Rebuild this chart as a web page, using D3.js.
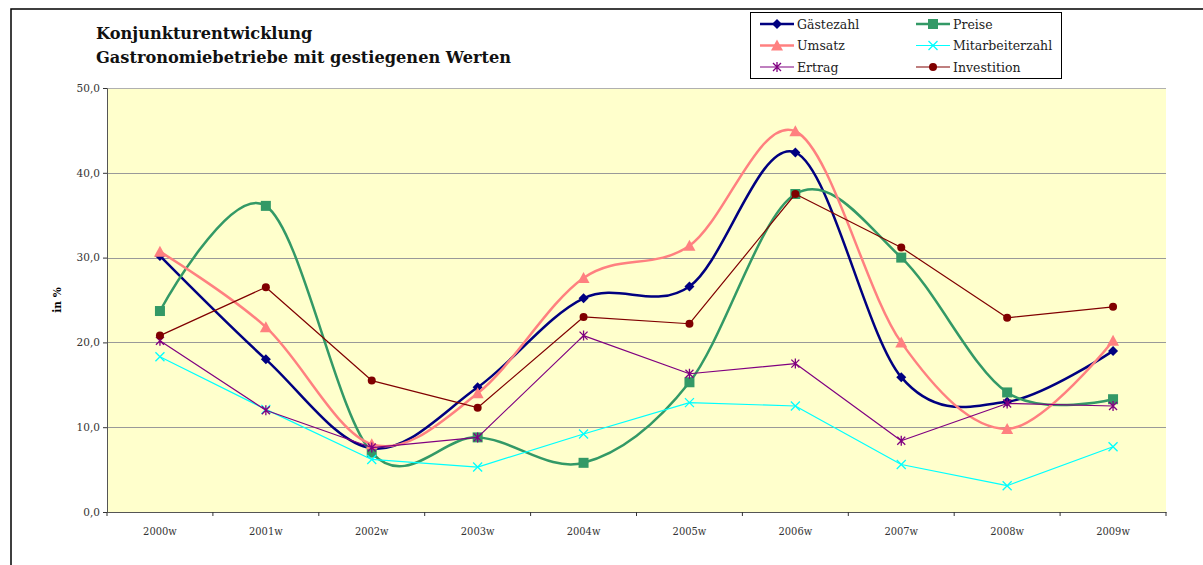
<!DOCTYPE html>
<html>
<head>
<meta charset="utf-8">
<script src="https://cdn.jsdelivr.net/npm/d3@7"></script>
<style>
  body { margin: 0; background: #fff; }
  svg { display: block; }
</style>
</head>
<body>
<svg id="chart"></svg>
<script>
const categories = ['2000w', '2001w', '2002w', '2003w', '2004w', '2005w', '2006w', '2007w', '2008w', '2009w'];

const gaestezahl = [30.2, 18.0, 7.5, 14.7, 25.2, 26.6, 42.4, 15.9, 13.0, 19.0];
const preise = [23.7, 36.1, 7.0, 8.8, 5.8, 15.3, 37.5, 30.0, 14.1, 13.3];
const umsatz = [30.7, 21.8, 8.0, 14.0, 27.6, 31.4, 44.9, 20.0, 9.8, 20.2];
const mitarbeiterzahl = [18.3, 12.1, 6.2, 5.3, 9.2, 12.9, 12.5, 5.6, 3.1, 7.7];
const ertrag = [20.2, 12.0, 7.6, 8.8, 20.8, 16.3, 17.5, 8.4, 12.8, 12.5];
const investition = [20.8, 26.5, 15.5, 12.3, 23.0, 22.2, 37.5, 31.2, 22.9, 24.2];

const yTicks = [0, 10, 20, 30, 40, 50];

const WIDTH = 1203;
const HEIGHT = 565;
const PLOT = { left: 107, right: 1166, top: 88, bottom: 512 };

// series table (styles kept here, values come from the arrays above)
const series = [
	{ name: 'Gästezahl', values: gaestezahl, color: '#000080', width: 2.5, smooth: true, marker: 'diamond' },
	{ name: 'Preise', values: preise, color: '#339966', width: 2.5, smooth: true, marker: 'square' },
	{ name: 'Umsatz', values: umsatz, color: '#FF8080', width: 2.5, smooth: true, marker: 'triangle' },
	{ name: 'Mitarbeiterzahl', values: mitarbeiterzahl, color: '#00FFFF', width: 1.2, smooth: false, marker: 'x' },
	{ name: 'Ertrag', values: ertrag, color: '#800080', width: 1.2, smooth: false, marker: 'star' },
	{ name: 'Investition', values: investition, color: '#800000', width: 1.2, smooth: false, marker: 'circle' }
];

const svg = d3.select('#chart').attr('width', WIDTH).attr('height', HEIGHT);

// outer chart frame
svg.append('rect')
	.attr('x', 11)
	.attr('y', 9)
	.attr('width', WIDTH + 20)
	.attr('height', HEIGHT + 20)
	.attr('fill', '#fff')
	.attr('stroke', '#000')
	.attr('stroke-width', 1.5);

const x = d3.scaleBand().domain(categories).range([PLOT.left, PLOT.right]);
const y = d3.scaleLinear().domain([0, 50]).range([PLOT.bottom, PLOT.top]);
const cx = (d) => x(d) + x.bandwidth() / 2;

// plot area
svg.append('rect')
	.attr('x', PLOT.left)
	.attr('y', PLOT.top)
	.attr('width', PLOT.right - PLOT.left)
	.attr('height', PLOT.bottom - PLOT.top)
	.attr('fill', '#FFFFCC');

// gridlines
svg.append('g')
	.selectAll('line')
	.data(yTicks.filter((t) => t > 0))
	.enter()
	.append('line')
	.attr('x1', PLOT.left)
	.attr('x2', PLOT.right)
	.attr('y1', (d) => Math.round(y(d)) + 0.5)
	.attr('y2', (d) => Math.round(y(d)) + 0.5)
	.attr('stroke', (d) => (d === 50 ? '#b0b0b0' : '#999'))
	.attr('stroke-width', 1.2);

// y axis
const yAxis = svg.append('g')
	.attr('transform', `translate(${PLOT.left},0)`)
	.call(d3.axisLeft(y).tickValues(yTicks).tickSize(4).tickPadding(3)
		.tickFormat((d) => d3.format('.1f')(d).replace('.', ',')));
yAxis.select('.domain').attr('stroke', '#555');
yAxis.selectAll('.tick line').attr('stroke', '#333');
yAxis.selectAll('text')
	.attr('font-family', 'DejaVu Serif')
	.attr('font-size', 10.5)
	.attr('fill', '#333');

// x axis
const xAxis = svg.append('g')
	.attr('transform', `translate(0,${PLOT.bottom})`)
	.call(d3.axisBottom(x).tickSize(0).tickPadding(15));
xAxis.select('.domain').attr('stroke', '#555').attr('stroke-width', 1.2);
xAxis.selectAll('text')
	.attr('font-family', 'DejaVu Serif Condensed, DejaVu Serif')
	.attr('font-size', 11)
	.attr('fill', '#333');
// category boundary ticks
xAxis.append('g')
	.selectAll('line')
	.data(d3.range(categories.length + 1))
	.enter()
	.append('line')
	.attr('x1', (i) => PLOT.left + i * x.bandwidth())
	.attr('x2', (i) => PLOT.left + i * x.bandwidth())
	.attr('y1', 0)
	.attr('y2', 4)
	.attr('stroke', '#333');

// y axis title
svg.append('text')
	.attr('transform', 'translate(61,300) rotate(-90)')
	.attr('text-anchor', 'middle')
	.attr('font-family', 'DejaVu Serif')
	.attr('font-weight', 'bold')
	.attr('font-size', 10.5)
	.text('in %');

// title
const title = svg.append('g').attr('font-family', 'DejaVu Serif').attr('font-weight', 'bold').attr('font-size', 16.2).attr('fill', '#111');
title.append('text').attr('x', 96).attr('y', 39).text('Konjunkturentwicklung');
title.append('text').attr('x', 96).attr('y', 63).text('Gastronomiebetriebe mit gestiegenen Werten');

function drawMarker(g, type, color) {
	if (type === 'diamond') {
		g.append('path').attr('d', 'M0,-5L5,0L0,5L-5,0Z').attr('fill', color);
	} else if (type === 'square') {
		g.append('rect').attr('x', -5).attr('y', -5).attr('width', 10).attr('height', 10).attr('fill', color);
	} else if (type === 'triangle') {
		g.append('path').attr('d', 'M0,-6L6,5L-6,5Z').attr('fill', color);
	} else if (type === 'circle') {
		g.append('circle').attr('r', 4).attr('fill', color);
	} else if (type === 'x') {
		g.append('path').attr('d', 'M-4.5,-4.5L4.5,4.5M-4.5,4.5L4.5,-4.5').attr('stroke', color).attr('stroke-width', 1.3);
	} else if (type === 'star') {
		g.append('path').attr('d', 'M-4,-4L4,4M-4,4L4,-4M0,-5L0,5').attr('stroke', color).attr('stroke-width', 1.3);
	}
}

// series lines
const lineGroup = svg.append('g');
series.forEach((s) => {
	const line = d3.line()
		.x((d, i) => cx(categories[i]))
		.y((d) => y(d))
		.curve(s.smooth ? d3.curveCardinal.tension(0) : d3.curveLinear);
	lineGroup.append('path')
		.datum(s.values)
		.attr('d', line)
		.attr('fill', 'none')
		.attr('stroke', s.color)
		.attr('stroke-width', s.width)
		.attr('stroke-linejoin', 'round');
	const markers = lineGroup.append('g')
		.selectAll('g')
		.data(s.values)
		.enter()
		.append('g')
		.attr('transform', (d, i) => `translate(${cx(categories[i])},${y(d)})`);
	markers.each(function () {
		drawMarker(d3.select(this), s.marker, s.color);
	});
});

// legend
const legend = svg.append('g').attr('transform', 'translate(750,12)');
legend.append('rect')
	.attr('x', 0.5)
	.attr('y', 0.5)
	.attr('width', 311)
	.attr('height', 66)
	.attr('fill', '#fff')
	.attr('stroke', '#000')
	.attr('stroke-width', 1);
series.forEach((s, i) => {
	const col = i % 2;
	const row = Math.floor(i / 2);
	const item = legend.append('g').attr('transform', `translate(${10 + col * 156},${12 + row * 21.5})`);
	item.append('line')
		.attr('x1', 0)
		.attr('x2', 34)
		.attr('stroke', s.color)
		.attr('stroke-width', s.smooth ? 2.5 : 1.2);
	drawMarker(item.append('g').attr('transform', 'translate(17,0)'), s.marker, s.color);
	item.append('text')
		.attr('x', 37)
		.attr('y', 4.5)
		.attr('font-family', 'DejaVu Serif')
		.attr('font-size', 12.5)
		.attr('fill', '#222')
		.text(s.name);
});
</script>
</body>
</html>
